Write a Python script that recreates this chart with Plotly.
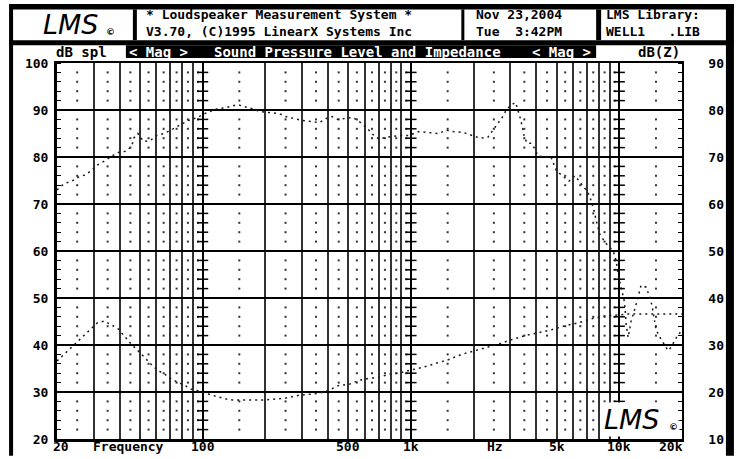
import math
import plotly.graph_objects as go

W, H = 736, 459
L, R, T, B = 57, 683, 63, 442

# ---------------- data ----------------
spl_freq = [20, 21.6, 23.6, 25.3, 27.3, 29.4, 31.2, 34.3, 36.6, 39.6,
            42.7, 45.7, 46.7, 48.9, 52, 56, 60.3, 65.2, 70.2, 74.7,
            80.1, 85.6, 94.5, 102, 118, 130, 139, 148, 162, 172,
            188, 209, 234, 251, 270, 298, 324, 362, 392, 418,
            446, 490, 528, 574, 611, 656, 703, 758, 810, 893,
            978, 1090, 1215, 1355, 1480, 1600, 1790, 1950, 2150, 2340,
            2565, 2740, 2875, 3030, 3180, 3240, 3350, 3430, 3500, 3620,
            3780, 3950, 4070, 4400, 4700, 5000, 5330, 5740, 6130, 6600,
            6980, 7200, 7520, 7780, 8040, 8500, 8870, 9360, 9670, 9880,
            10100, 10330, 10560, 10680, 10790, 11030, 11400, 11920, 12320, 12730,
            13450, 14060, 14370, 14690, 15020, 15690, 16400, 17140, 17710, 18520,
            19140, 20000]
spl_db = [73.0, 74.3, 74.9, 75.7, 76.2, 77.2, 78.3, 79.3, 80.2, 81.0,
          81.2, 82.3, 84.0, 85.0, 83.3, 83.5, 84.6, 85.0, 85.7, 86.3,
          87.1, 87.8, 88.4, 89.2, 90.3, 90.5, 90.9, 91.1, 90.7, 90.3,
          89.7, 89.5, 89.2, 88.6, 88.2, 87.8, 87.6, 87.3, 88.2, 88.6,
          88.0, 88.2, 88.4, 87.3, 86.3, 84.8, 83.8, 84.2, 84.4, 84.6,
          84.6, 85.4, 85.2, 85.0, 85.7, 85.4, 85.2, 84.6, 84.0, 84.2,
          86.5, 88.4, 90.1, 91.1, 91.6, 90.5, 88.2, 86.3, 84.2, 82.9,
          82.9, 81.6, 80.2, 80.0, 80.0, 77.0, 76.0, 74.9, 76.0, 74.3,
          72.8, 71.7, 69.0, 66.2, 63.7, 62.0, 61.0, 60.0, 57.8, 54.9,
          53.2, 51.5, 49.4, 47.3, 44.3, 41.6, 45.1, 47.9, 50.6, 52.7,
          52.3, 50.0, 48.3, 45.4, 43.2, 41.6, 40.1, 38.8, 39.5, 41.1,
          42.2, 43.0]

imp_freq = [20, 21.6, 23.3, 25.3, 27.3, 29.4, 31.2, 33.8, 36.6, 39.2,
            42.3, 45.2, 48.9, 52.6, 56.6, 60.9, 65.8, 71, 76.5, 82,
            88.2, 96.6, 104, 111, 120, 130, 139, 162, 193, 225,
            251, 290, 324, 362, 404, 451, 504, 563, 629, 703,
            786, 878, 981, 1130, 1320, 1520, 1750, 2030, 2340, 2590,
            3030, 3530, 4070, 4700, 5500, 6360, 7360, 8570, 9960, 11000,
            12500, 14000, 16000, 18000, 20000]
imp_dbz = [26.6, 28.0, 29.5, 30.9, 32.2, 33.7, 34.7, 35.1, 34.3, 33.5,
           31.8, 30.3, 28.8, 27.3, 25.9, 24.6, 23.8, 22.7, 22.1, 21.4,
           20.6, 20.2, 19.7, 19.3, 18.9, 18.5, 18.3, 18.3, 18.3, 18.5,
           18.7, 19.3, 19.5, 19.7, 20.4, 21.4, 21.6, 22.5, 22.9, 23.1,
           23.8, 24.0, 24.6, 25.2, 26.1, 26.9, 28.0, 28.8, 29.5, 30.1,
           31.1, 32.0, 32.6, 33.2, 34.1, 34.7, 35.6, 36.2, 36.4, 36.6,
           36.6, 36.6, 36.6, 36.6, 36.6]

x_grid = [30, 40, 50, 60, 70, 80, 90, 200, 300, 400, 500, 600, 700, 800, 900,
          2000, 3000, 4000, 5000, 6000, 7000, 8000, 9000]
x_decades = [100, 1000, 10000]
x_dot_cols = [25, 35, 45, 55, 65, 75, 85, 95,
              150, 250, 350, 450, 550, 650, 750, 850, 950,
              1500, 2500, 3500, 4500, 5500, 6500, 7500, 8500, 9500, 15000]
y_left_ticks = [20, 30, 40, 50, 60, 70, 80, 90, 100]
y_right_ticks = [10, 20, 30, 40, 50, 60, 70, 80, 90]
y_minor_rows = [v for v in range(22, 100, 2) if v % 10 != 0]
x_label_vals = [20, 100, 500, 1000, 5000, 10000, 20000]
x_label_text = ["20", "100", "500", "1k", "5k", "10k", "20k"]

FONT = "DejaVu Sans Mono"
INK = "#1a1a1a"


def px(x):
    return (x - L) / (R - L)


def py(y):
    return (B - y) / (B - T)


fig = go.Figure()

# grid dots on the intermediate columns
gx, gy = [], []
for c in x_dot_cols:
    for r in y_minor_rows:
        gx.append(c)
        gy.append(r)
fig.add_trace(go.Scatter(x=gx, y=gy, mode="markers", xaxis="x", yaxis="y",
                         marker=dict(symbol="square", size=2, color="#333333", line=dict(width=0)),
                         hoverinfo="skip", showlegend=False))

# tick dashes across the decade lines
dx, dy = [], []
for c in x_decades:
    for r in y_minor_rows:
        dx.append(c)
        dy.append(r)
fig.add_trace(go.Scatter(x=dx, y=dy, mode="markers", xaxis="x2", yaxis="y",
                         marker=dict(symbol="line-ew", size=8, line=dict(width=1.5, color="black")),
                         hoverinfo="skip", showlegend=False))

# curves
fig.add_trace(go.Scatter(x=spl_freq, y=spl_db, mode="lines", xaxis="x", yaxis="y",
                         line=dict(color=INK, width=1.5, dash="2px,4px"),
                         name="SPL", showlegend=False))
fig.add_trace(go.Scatter(x=imp_freq, y=imp_dbz, mode="lines", xaxis="x", yaxis="y2",
                         line=dict(color=INK, width=1.5, dash="2px,4px"),
                         name="Impedance", showlegend=False))

xr = [math.log10(20), math.log10(20000)]

shapes = []


def rect(x0, y0, x1, y1, color="black"):
    shapes.append(dict(type="rect", xref="paper", yref="paper",
                       x0=px(x0), x1=px(x1), y0=py(y1), y1=py(y0),
                       fillcolor=color, line=dict(width=0), layer="above"))


rect(9, 3.5, 735, 9)      # top band
rect(9, 3.5, 13, 459)     # left bar
rect(727, 3.5, 735, 459)  # right bar
rect(9, 40, 735, 45)      # under header
rect(133, 9, 137, 40)
rect(462, 9, 465, 40)
rect(597, 9, 602, 40)
rect(126, 45, 597, 58)    # title band

ann = []


def text(t, x, y, size=13, anchor="left", yanchor="middle", color="black", family=FONT,
         bold=True, italic=False, bg=None, pad=1):
    if bold:
        t = "<b>" + t + "</b>"
    if italic:
        t = "<i>" + t + "</i>"
    d = dict(text=t, xref="paper", yref="paper", x=px(x), y=py(y),
             xanchor=anchor, yanchor=yanchor, showarrow=False, borderpad=pad,
             font=dict(family=family, size=size, color=color))
    if bg:
        d["bgcolor"] = bg
    ann.append(d)


NB = "\u00a0"
HS = 13
# header boxes
text("LMS", 71, 24, size=27, anchor="center", family="DejaVu Sans", bold=False, italic=True)
text("©", 111, 32, size=9, anchor="center", family="DejaVu Sans", bold=True)
text("* Loudspeaker Measurement System *", 145, 22.5, size=HS, yanchor="bottom", pad=0)
text("V3.70, (C)1995 LinearX Systems Inc", 145, 22.5, size=HS, yanchor="top", pad=0)
text("Nov 23,2004", 476, 22.5, size=HS, yanchor="bottom", pad=0)
text("Tue" + NB * 2 + "3:42PM", 476, 22.5, size=HS, yanchor="top", pad=0)
text("LMS Library:", 606, 22.5, size=HS, yanchor="bottom", pad=0)
text("WELL1" + NB * 3 + ".LIB", 606, 22.5, size=HS, yanchor="top", pad=0)

# title row
text("dB spl", 55, 51.5, size=14, pad=0)
text("<" + NB + "Mag" + NB + ">", 128, 51.5, size=14, color="white", pad=0)
text("Sound Pressure Level and Impedance", 358, 51.5, size=14, anchor="center", color="white", pad=0)
text("<" + NB + "Mag" + NB + ">", 593, 51.5, size=14, anchor="right", color="white", pad=0)
text("dB(Z)", 638, 51.5, size=14, pad=0)

# bottom axis labels
for v, t in zip(x_label_vals, x_label_text):
    anchor = "center"
    shift = 0
    if v == x_label_vals[0]:
        anchor, shift = "left", -5
    elif v == x_label_vals[-1]:
        anchor, shift = "right", 2
    ann.append(dict(text="<b>" + t + "</b>", xref="x", yref="paper", x=math.log10(v), y=py(450),
                    xanchor=anchor, yanchor="middle", xshift=shift, showarrow=False,
                    borderpad=0,
                    font=dict(family=FONT, size=13, color="black")))
text("Frequency", 129, 450, size=13, anchor="center", pad=0)
text("Hz", 496, 450, size=13, anchor="center", pad=0)

# logo in the plot
text("LMS", 632, 422, size=27, anchor="center", family="DejaVu Sans", bold=False, italic=True, bg="white")
text("©", 674, 430, size=9, anchor="center", family="DejaVu Sans", bold=True, bg="white")

tickfont = dict(family=FONT, size=13, color="black")

fig.update_layout(
    width=W, height=H,
    margin=dict(l=L, r=W - R, t=T, b=H - B, pad=0),
    paper_bgcolor="white", plot_bgcolor="white",
    showlegend=False,
    xaxis=dict(type="log", range=xr, tickmode="array", tickvals=x_grid,
               showticklabels=False, ticks="", showgrid=True,
               gridcolor="#333333", gridwidth=1.5, zeroline=False,
               showline=True, linecolor="black", linewidth=3),
    xaxis2=dict(type="log", range=xr, overlaying="x", side="top",
                tickmode="array", tickvals=x_decades, showticklabels=False,
                ticks="", showgrid=True, gridcolor="black", gridwidth=2,
                zeroline=False, showline=True, linecolor="black", linewidth=2),
    yaxis=dict(range=[20, 100], tickmode="array", tickvals=y_left_ticks,
               ticktext=["<b>%d</b>" % v for v in y_left_ticks],
               showgrid=True, gridcolor="black", gridwidth=1.5, zeroline=False,
               showline=True, linecolor="black", linewidth=3, ticks="",
               tickfont=tickfont, ticklabelstandoff=3,
               minor=dict(tickmode="linear", tick0=20, dtick=2, ticks="inside",
                          ticklen=4, tickwidth=1, tickcolor="black", showgrid=False)),
    yaxis2=dict(range=[10, 90], overlaying="y", side="right", tickmode="array",
                tickvals=y_right_ticks,
                ticktext=["<b>%d</b>" % v for v in y_right_ticks],
                showgrid=False, zeroline=False,
                showline=True, linecolor="black", linewidth=1.5, ticks="",
                tickfont=tickfont, ticklabelstandoff=22,
                minor=dict(tickmode="linear", tick0=10, dtick=2, ticks="inside",
                           ticklen=4, tickwidth=1, tickcolor="black", showgrid=False)),
    shapes=shapes,
    annotations=ann,
)

fig.write_html("out.html", config={"displayModeBar": False},
               post_script="document.body.style.margin='0';document.body.style.overflow='hidden';")
